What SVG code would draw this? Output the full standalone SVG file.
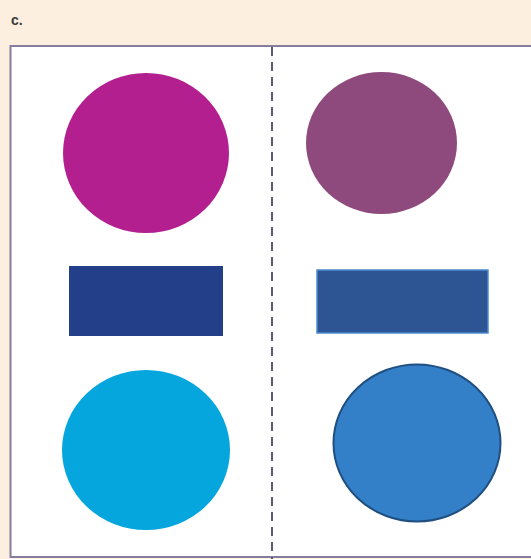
<svg xmlns="http://www.w3.org/2000/svg" width="531" height="559" viewBox="0 0 531 559">
<style>
.lbl{font-family:"Liberation Sans",Arial,sans-serif;font-weight:bold;font-size:14px;fill:#3a3a3a}
</style>
<rect x="0" y="0" width="531" height="559" fill="#fcefe0"/>
<text class="lbl" x="11" y="25">c.</text>
<g id="panel">
<rect x="10.5" y="46" width="530" height="511" fill="#ffffff" stroke="#857c9e" stroke-width="2"/>
</g>
<g id="connectors">
<line x1="272" y1="47" x2="272" y2="559" stroke="#5e5873" stroke-width="2" stroke-dasharray="9,6"/>
</g>
<g id="magenta-circle"><ellipse cx="146" cy="153" rx="83" ry="80" fill="#b31f8e"/></g>
<g id="purple-circle"><ellipse cx="381.5" cy="143" rx="75.5" ry="71" fill="#8e4a7c"/></g>
<g id="left-rect"><rect x="69" y="266" width="154" height="70" fill="#233f8a"/></g>
<g id="right-rect"><rect x="317" y="270" width="171" height="63" fill="#2d5493" stroke="#4c8ad2" stroke-width="1.5"/></g>
<g id="cyan-circle"><ellipse cx="146" cy="450" rx="84" ry="80" fill="#05a5dd"/></g>
<g id="blue-circle"><ellipse cx="417" cy="443" rx="83.5" ry="78.5" fill="#3380c8" stroke="#1f4f80" stroke-width="2"/></g>
</svg>
